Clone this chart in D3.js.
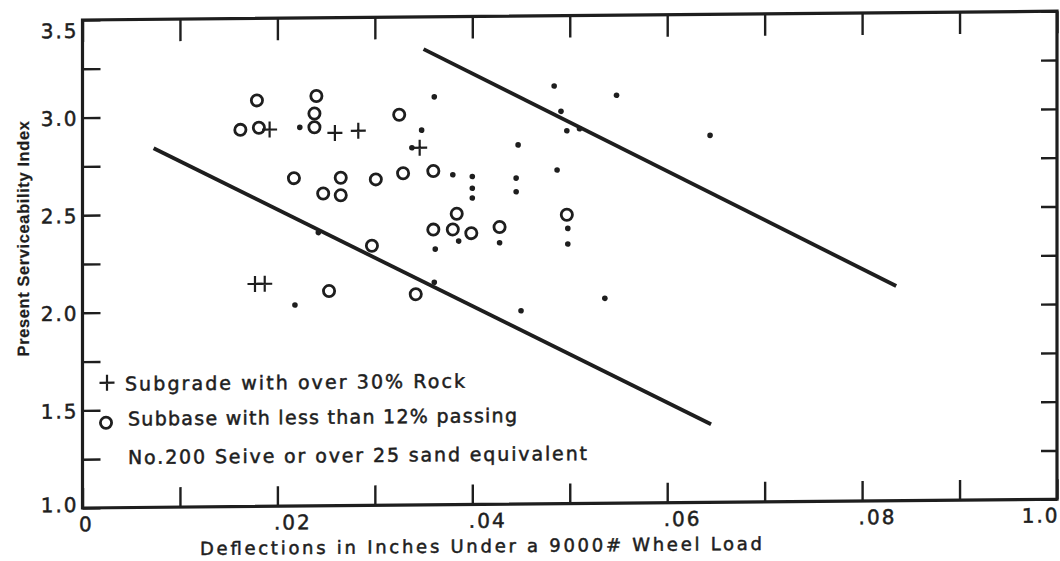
<!DOCTYPE html>
<html>
<head>
<meta charset="utf-8">
<script src="https://cdn.jsdelivr.net/npm/d3@7"></script>
<style>
  body { margin: 0; background: #fff; }
  text { font-family: "DejaVu Sans", sans-serif; fill: #1e1e1e; stroke: #1e1e1e; stroke-width: 0.5px; }
</style>
</head>
<body>
<svg id="chart" width="1060" height="561"></svg>
<script>
// circles: subbase with less than 12% passing No.200 / over 25 sand equivalent
var subbaseX = [0.0179, 0.0162, 0.0181, 0.0240, 0.0238, 0.0238, 0.0325, 0.0217, 0.0265, 0.0247, 0.0265, 0.0301,
                0.0329, 0.0360, 0.0360, 0.0297, 0.0253, 0.0342, 0.0384, 0.0380, 0.0399, 0.0428, 0.0497];
var subbaseY = [3.08, 2.93, 2.94, 3.10, 3.01, 2.94, 3.00, 2.68, 2.68, 2.60, 2.59, 2.67,
                2.70, 2.71, 2.41, 2.33, 2.10, 2.08, 2.49, 2.41, 2.39, 2.42, 2.48];

// pluses: subgrade with over 30% rock
var rockX = [0.0192, 0.0259, 0.0283, 0.0346, 0.0177, 0.0187];
var rockY = [2.93, 2.91, 2.92, 2.83, 2.14, 2.14];

// small dots: other sections
var otherX = [0.0223, 0.0242, 0.0218, 0.0361, 0.0348, 0.0338, 0.0380, 0.0400, 0.0400, 0.0400, 0.0447, 0.0445,
              0.0445, 0.0484, 0.0491, 0.0497, 0.0510, 0.0548, 0.0644, 0.0487, 0.0498, 0.0498, 0.0428, 0.0386,
              0.0362, 0.0361, 0.0450, 0.0536];
var otherY = [2.94, 2.40, 2.03, 3.09, 2.92, 2.83, 2.69, 2.68, 2.62, 2.57, 2.84, 2.67,
              2.60, 3.14, 3.01, 2.91, 2.92, 3.09, 2.88, 2.71, 2.41, 2.33, 2.34, 2.35,
              2.31, 2.14, 1.99, 2.05];

// envelope lines
var lowerLineX = [0.0073, 0.0645];
var lowerLineY = [2.84, 1.40];
var upperLineX = [0.0350, 0.0835];
var upperLineY = [3.335, 2.10];

var xTicks = [0, 0.01, 0.02, 0.03, 0.04, 0.05, 0.06, 0.07, 0.08, 0.09, 0.10];
var xTickLabels = ['0', '', '.02', '', '.04', '', '.06', '', '.08', '', '1.0'];
var yTicks = [1.0, 1.25, 1.5, 1.75, 2.0, 2.25, 2.5, 2.75, 3.0, 3.25, 3.5];
var yTickLabels = ['1.0', '', '1.5', '', '2.0', '', '2.5', '', '3.0', '', '3.5'];

var legendLines = ['Subgrade with over 30% Rock', 'Subbase with less than 12% passing', 'No.200  Seive or over 25 sand equivalent'];
var xTitle = 'Deflections in Inches Under a 9000# Wheel Load';
var yTitle = 'Present Serviceability Index';

var ink = '#1e1e1e';
var plotLeft = 82.5, plotRight = 1057, plotTop = 20, plotBottom = 508;

var svg = d3.select('#chart');
svg.append('rect').attr('width', 1060).attr('height', 561).attr('fill', '#fff');

// the scan is slightly sheared, the right side sits higher
var skew = 0.009;
var g = svg.append('g')
  .attr('transform', 'translate(0,' + (plotLeft * skew) + ') skewY(' + (-Math.atan(skew) * 180 / Math.PI) + ')');

var x = d3.scaleLinear().domain([0, 0.10]).range([plotLeft, plotRight]);
var y = d3.scaleLinear().domain([1.0, 3.5]).range([plotBottom, plotTop]);

function styleAxis(sel) {
  sel.select('.domain').remove();
  sel.selectAll('.tick line').attr('stroke', ink).attr('stroke-width', 2.4);
  sel.selectAll('.tick text').attr('fill', ink).style('font-family', '"DejaVu Sans", sans-serif')
    .style('font-size', '20px').style('letter-spacing', '2px');
}

var xAxisB = g.append('g').attr('transform', 'translate(0,' + plotBottom + ')')
  .call(d3.axisBottom(x).tickValues(xTicks).tickSize(-20).tickPadding(9)
    .tickFormat(function(d, i) { return xTickLabels[i]; }))
  .call(styleAxis);
xAxisB.selectAll('.tick text')
  .attr('text-anchor', function(d, i) { return i === xTicks.length - 1 ? 'end' : 'start'; })
  .attr('x', function(d, i) { return i === xTicks.length - 1 ? 2 : -4; });

g.append('g').attr('transform', 'translate(0,' + plotTop + ')')
  .call(d3.axisTop(x).tickValues(xTicks).tickSize(-22).tickFormat(''))
  .call(styleAxis);

var yAxisL = g.append('g').attr('transform', 'translate(' + plotLeft + ',0)')
  .call(d3.axisLeft(y).tickValues(yTicks).tickSize(-18).tickPadding(4)
    .tickFormat(function(d, i) { return yTickLabels[i]; }))
  .call(styleAxis);
// top label sits below the frame corner in the original
yAxisL.selectAll('.tick text').attr('y', function(d) { return d === 3.5 ? 11 : (d === 1.0 ? -3 : 1); });

g.append('g').attr('transform', 'translate(' + plotRight + ',0)')
  .call(d3.axisRight(y).tickValues(yTicks).tickSize(-16).tickFormat(''))
  .call(styleAxis);

// frame
g.append('rect')
  .attr('x', plotLeft).attr('y', plotTop)
  .attr('width', plotRight - plotLeft).attr('height', plotBottom - plotTop)
  .attr('fill', 'none').attr('stroke', ink).attr('stroke-width', 3.2);

// envelope lines
var line = d3.line().x(function(d) { return x(d[0]); }).y(function(d) { return y(d[1]); });
[[lowerLineX, lowerLineY], [upperLineX, upperLineY]].forEach(function(l) {
  g.append('path')
    .datum(d3.zip(l[0], l[1]))
    .attr('d', line)
    .attr('fill', 'none').attr('stroke', ink).attr('stroke-width', 3.8);
});

// dots
g.selectAll('circle.other')
  .data(d3.zip(otherX, otherY))
  .enter().append('circle')
  .attr('class', 'other')
  .attr('cx', function(d) { return x(d[0]); })
  .attr('cy', function(d) { return y(d[1]); })
  .attr('r', 2.8)
  .attr('fill', ink);

// open circles
g.selectAll('circle.subbase')
  .data(d3.zip(subbaseX, subbaseY))
  .enter().append('circle')
  .attr('class', 'subbase')
  .attr('cx', function(d) { return x(d[0]); })
  .attr('cy', function(d) { return y(d[1]); })
  .attr('r', 5.6)
  .attr('fill', 'none')
  .attr('stroke', ink)
  .attr('stroke-width', 2.8);

// pluses
var plusPath = 'M-7.5,0H7.5M0,-8V8';
g.selectAll('path.rock')
  .data(d3.zip(rockX, rockY))
  .enter().append('path')
  .attr('class', 'rock')
  .attr('transform', function(d) { return 'translate(' + x(d[0]) + ',' + y(d[1]) + ')'; })
  .attr('d', plusPath)
  .attr('fill', 'none').attr('stroke', ink).attr('stroke-width', 2.2);

// legend
var legend = g.append('g');
legend.append('path').attr('transform', 'translate(107,383)').attr('d', plusPath)
  .attr('fill', 'none').attr('stroke', ink).attr('stroke-width', 2.2);
legend.append('circle').attr('cx', 106).attr('cy', 423).attr('r', 5.6)
  .attr('fill', 'none').attr('stroke', ink).attr('stroke-width', 2.8);
var legendPos = [[125, 391, 340], [128, 426, 389], [128, 464.5, 459]];
legend.selectAll('text')
  .data(legendLines)
  .enter().append('text')
  .attr('x', function(d, i) { return legendPos[i][0]; })
  .attr('y', function(d, i) { return legendPos[i][1]; })
  .attr('textLength', function(d, i) { return legendPos[i][2]; })
  .attr('lengthAdjust', 'spacing')
  .style('font-size', '19px')
  .text(function(d) { return d; });

// axis titles
g.append('text')
  .attr('x', 200).attr('y', 556)
  .attr('textLength', 562).attr('lengthAdjust', 'spacing')
  .style('font-size', '18px')
  .text(xTitle);

g.append('text')
  .attr('transform', 'translate(29,238) rotate(-90)')
  .attr('text-anchor', 'middle')
  .style('font-family', '"Liberation Sans", Arial, sans-serif')
  .style('font-weight', 'bold')
  .style('font-size', '16.5px')
  .style('letter-spacing', '0.6px')
  .style('stroke-width', '0.2px')
  .text(yTitle);
</script>
</body>
</html>
